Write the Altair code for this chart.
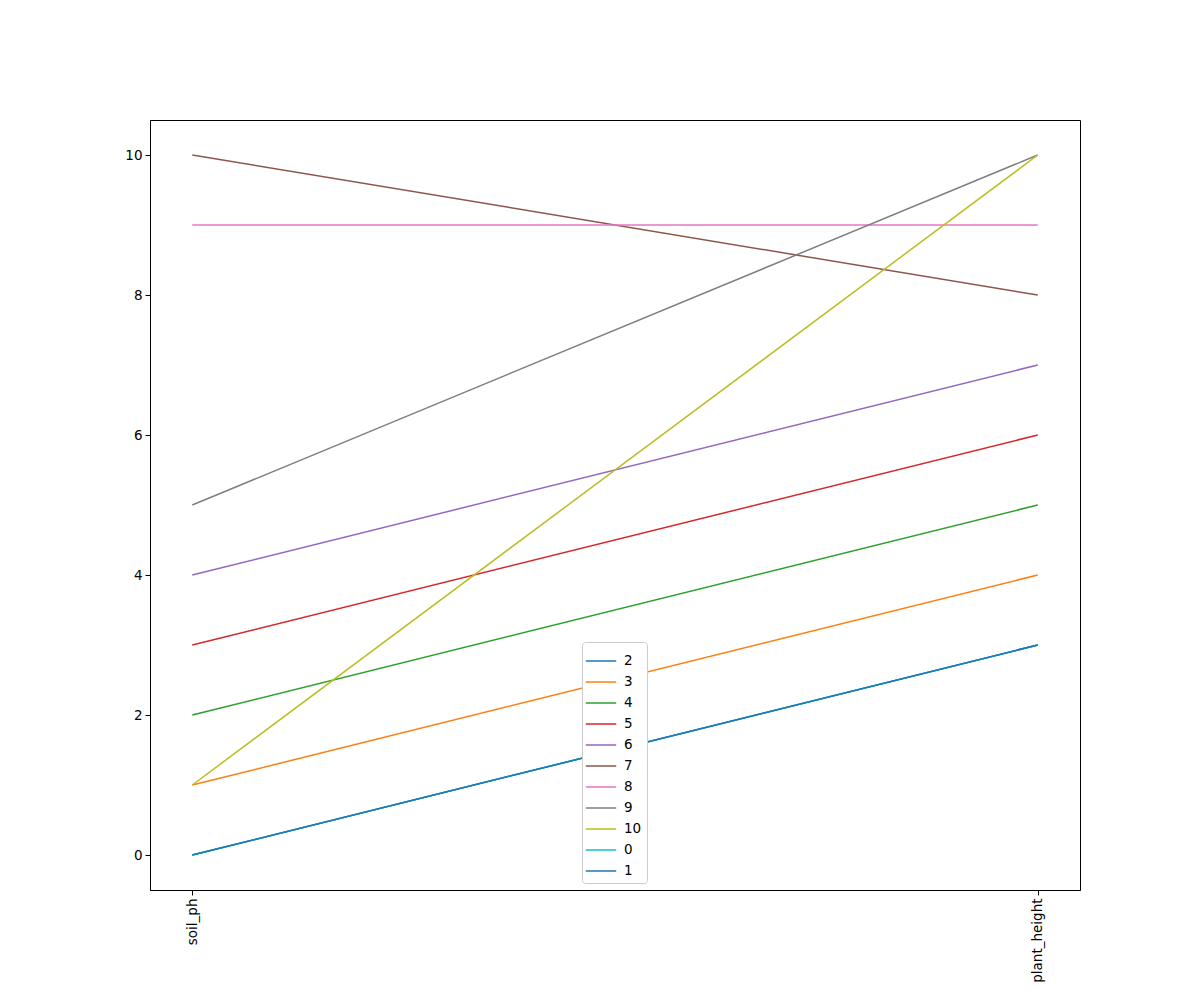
import altair as alt
import pandas as pd

classes = ["2", "3", "4", "5", "6", "7", "8", "9", "10", "0", "1"]
soil_ph = [0, 1, 2, 3, 4, 10, 9, 5, 1, 0, 0]
plant_height = [3, 4, 5, 6, 7, 8, 9, 10, 10, 3, 3]
columns = ["soil_ph", "plant_height"]
colors = ["#1f77b4", "#ff7f0e", "#2ca02c", "#d62728", "#9467bd", "#8c564b",
          "#e377c2", "#7f7f7f", "#bcbd22", "#17becf", "#1f77b4"]

rows = []
for i, c in enumerate(classes):
    rows.append({"cls": c, "order": i, "pos": 0, "value": soil_ph[i]})
    rows.append({"cls": c, "order": i, "pos": 1, "value": plant_height[i]})
df = pd.DataFrame(rows)

chart = alt.Chart(df).mark_line(strokeWidth=1.5).encode(
    x=alt.X("pos:Q", scale=alt.Scale(domain=[-0.05, 1.05], nice=False, zero=False),
            axis=alt.Axis(values=[0, 1], title=None, grid=False, labelAngle=270,
                          labelExpr="datum.value == 0 ? 'soil_ph' : 'plant_height'",
                          labelFontSize=13.5, labelColor="black", tickColor="black",
                          domainColor="black", tickSize=5, labelPadding=3)),
    y=alt.Y("value:Q", scale=alt.Scale(domain=[-0.5, 10.5], nice=False, zero=False),
            axis=alt.Axis(values=[0, 2, 4, 6, 8, 10], title=None, grid=False,
                          labelFontSize=13.5, labelColor="black", tickColor="black",
                          domainColor="black", tickSize=5, labelPadding=3)),
    color=alt.Color("cls:N", scale=alt.Scale(domain=classes, range=colors),
                    legend=alt.Legend(title=None, orient="none", legendX=432, legendY=522,
                                      symbolType="M-1.15,0H1.15", symbolSize=700,
                                      symbolStrokeWidth=1.5, labelFontSize=13.5,
                                      symbolFillColor="transparent",
                                      labelColor="black", rowPadding=0, labelOffset=9,
                                      strokeColor="#cccccc", cornerRadius=3,
                                      padding=5, fillColor="white")),
    detail="cls:N",
    order="order:Q",
).properties(
    width=930, height=770,
    autosize=alt.AutoSizeParams(type="none"),
    padding={"left": 142, "top": 112, "right": 112, "bottom": 102},
).configure(
    font="DejaVu Sans",
    view=alt.ViewConfig(stroke="black", strokeWidth=1),
)

chart.save("out.html", embed_options={"renderer": "svg", "actions": False})
